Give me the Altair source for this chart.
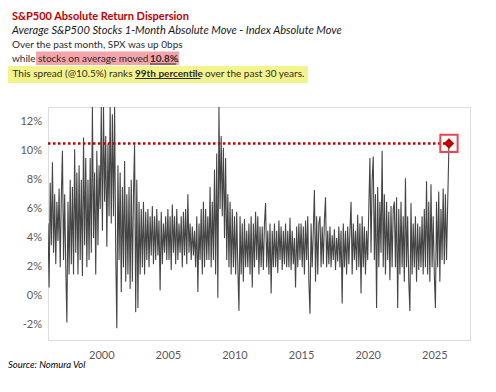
import altair as alt
import pandas as pd

# ---- data (monthly, percent) ----
start_year = 1996
spread_1996_2000 = [
    5.0, 0.6, 7.8, 3.5, 9.2, 3.0, 7.0, 2.2, 6.5, 3.8, 7.4, 2.0,
    6.8, 10.0, 2.5, 7.0, 2.0, -1.8, 6.5, 1.5, 8.0, 2.2, 7.5, 1.5,
    10.1, 3.0, 8.5, 1.5, 9.0, 2.5, 8.0, 1.4, 10.9, 3.5, 9.5, 2.0,
    8.0, 2.5, 9.5, 3.0, 13.0, 4.0, 8.5, 1.5, 10.0, 3.5, 9.0, 6.0,
    13.0, 4.5, 13.0, 6.5, 11.0, 3.4, 10.5, 5.5, 13.0, 5.0, 12.5, 5.5,
]
spread_2001_2005 = [
    13.0, 3.0, -2.2, 9.0, 2.5, 8.5, 0.3, 7.5, 2.0, 9.3, 1.0, 7.0,
    1.5, 7.5, 0.5, 8.0, 1.0, 7.0, 10.4, -1.1, 8.0, -0.8, 6.5, 1.5,
    6.0, 2.0, 6.5, 1.5, 5.8, 2.5, 6.0, 2.0, 5.5, 2.8, 6.2, 2.2,
    5.5, 2.5, 6.0, 2.8, 5.2, 0.4, 5.8, 2.2, 5.0, 3.0, 5.5, 2.5,
    6.0, 2.5, 5.5, 1.8, 6.3, 3.0, 5.5, 2.2, 6.0, 2.5, 5.0, 3.0,
]
spread_2006_2010 = [
    5.5, 2.0, 5.8, 2.8, 6.0, 2.2, 7.0, 3.0, 5.0, 2.5, 4.8, 2.8,
    4.5, 2.0, 5.5, 0.3, 5.0, 2.5, 6.0, 1.5, 6.5, 2.0, 6.0, 2.5,
    5.5, 2.5, 7.5, 2.0, 6.5, 2.5, 8.7, 1.5, 9.8, -0.1, 13.0, 6.0,
    11.0, 5.5, 10.2, 4.0, 9.5, 2.5, 7.0, 2.0, 6.5, 1.5, 6.0, 2.0,
    5.5, 1.5, 5.8, 2.0, -1.0, 5.5, 1.5, 5.0, 1.0, 5.3, 2.0, 4.5,
]
spread_2011_2015 = [
    2.0, 5.0, 1.5, 5.5, 0.6, 5.0, 2.0, 5.8, 2.5, 5.5, 1.5, 4.8,
    2.0, 4.8, 1.8, 5.0, 6.4, 2.0, 4.5, 1.5, 5.0, 0.2, 4.5, 2.0,
    5.0, 2.0, 4.5, 1.6, 5.2, 2.5, 4.8, 1.8, 4.5, 2.2, 5.0, 2.0,
    4.5, 2.0, 5.4, 1.8, 4.5, 2.2, 4.0, 0.6, 4.8, 2.0, 5.0, 2.5,
    5.0, 2.0, 4.8, 1.5, 5.2, 2.5, 5.5, 1.0, -1.2, 5.0, 2.0, 4.5,
]
spread_2016_2020 = [
    7.3, 1.0, 5.5, 1.5, 5.0, 5.5, 2.0, 4.8, 2.2, 5.2, 6.8, 2.0,
    4.5, 2.2, 4.8, 2.0, 4.2, 2.5, 4.6, 1.8, 4.0, 2.4, 4.8, 2.0,
    4.5, -0.5, 5.0, 2.0, 4.5, 1.5, 4.8, 2.2, 4.5, 6.5, 1.5, 5.0,
    2.5, 4.5, 1.8, 5.6, 2.0, 5.0, 0.2, 5.5, 2.0, 4.8, 1.5, 4.5,
    2.5, 6.0, 9.5, 3.0, 8.0, 9.6, 2.5, 7.0, -0.8, 7.5, 2.0, 6.5,
]
spread_2021_2025 = [
    3.0, 10.0, 2.0, 7.0, 1.5, 6.5, 2.5, 5.8, 1.1, 6.2, 2.0, 6.0,
    6.5, 2.0, 6.8, -0.8, 6.0, 1.5, 6.5, 2.0, 5.5, 1.0, 8.1, 2.0,
    5.5, 1.0, -1.0, 6.4, 1.5, 5.0, 2.0, 5.5, 1.0, 5.0, 1.8, 4.8,
    2.0, 5.5, 1.5, 6.0, 2.0, 7.9, 1.5, 6.5, 1.0, 7.7, 2.0, 5.5,
    1.5, -0.8, 6.5, 2.0, 7.2, 1.0, 6.0, 2.5, 7.4, 2.2, 7.0, 2.5,
]
latest_time = 2026.1
latest_value = 10.5
threshold = 10.5
y_ticks = [-2, 0, 2, 4, 6, 8, 10, 12]
x_ticks = [2000, 2005, 2010, 2015, 2020, 2025]

values = (spread_1996_2000 + spread_2001_2005 + spread_2006_2010
          + spread_2011_2015 + spread_2016_2020 + spread_2021_2025)
df = pd.DataFrame({
    "t": [start_year + i / 12 for i in range(len(values))] + [latest_time],
    "v": values + [latest_value],
})
latest = pd.DataFrame({"t": [latest_time], "v": [latest_value]})
ytick_df = pd.DataFrame({"v": y_ticks, "label": [f"{v}%" for v in y_ticks]})

FONT = "Lato"
RED = "#C00000"
BODY = 10
x_scale = alt.Scale(domain=[1996, 2027.68], nice=False, zero=False)
y_scale = alt.Scale(domain=[-3, 13], nice=False, zero=False)

line = alt.Chart(df).mark_line(color="#454545", strokeWidth=1.1, clip=True).encode(
    x=alt.X("t:Q", scale=x_scale,
            axis=alt.Axis(values=x_ticks, format="d", title=None, grid=False, ticks=False,
                          domainColor="#D9D9D9", labelColor="#595959", labelFont=FONT,
                          labelFontSize=11, labelPadding=9, labelFlush=False,
                          labelOverlap=False)),
    y=alt.Y("v:Q", scale=y_scale, axis=None),
)

# y tick labels, placed through the y scale
ylabels = alt.Chart(ytick_df).mark_text(
    align="right", baseline="middle", font=FONT, fontSize=11, color="#595959"
).encode(x=alt.value(-6), y=alt.Y("v:Q", scale=y_scale, axis=None), text="label:N")

rule = alt.Chart(alt.Data(values=[{}])).mark_rule(
    color=RED, strokeWidth=2.5, strokeDash=[2.5, 2.5]
).encode(x=alt.X(datum=1996), x2=alt.X2(datum=latest_time), y=alt.Y(datum=threshold))

diamond = alt.Chart(latest).mark_point(shape="diamond", filled=True, color=RED, size=110, opacity=1).encode(
    x="t:Q", y="v:Q")
box = alt.Chart(latest).mark_point(shape="square", filled=False, color="#E8474F", size=300,
                                   strokeWidth=2, opacity=1).encode(x="t:Q", y="v:Q")

one = alt.Data(values=[{}])


def txt(s, x, y, size=BODY, weight="normal", style="normal", color="#2b2b2b"):
    return alt.Chart(one).mark_text(text=s, align="left", baseline="alphabetic", font=FONT,
                                    fontSize=size, fontWeight=weight, fontStyle=style,
                                    color=color).encode(x=alt.value(x), y=alt.value(y))


def box_rect(x0, x1, y0, y1, color):
    return alt.Chart(one).mark_rect(color=color).encode(
        x=alt.value(x0), x2=alt.value(x1), y=alt.value(y0), y2=alt.value(y1))


def underline(x0, x1, y):
    return alt.Chart(one).mark_rule(color="#2b2b2b", strokeWidth=1).encode(
        x=alt.value(x0), x2=alt.value(x1), y=alt.value(y))


OX, OY = 48, 107
annot = [
    box_rect(36 - OX, 179 - OX, 51.5 - OY, 65 - OY, "#F4A3AA"),
    box_rect(8 - OX, 308 - OX, 66 - OY, 83 - OY, "#F3F58C"),
    txt("S&P500 Absolute Return Dispersion", 12 - OX, 19.5 - OY, size=11, weight="bold", color=RED),
    txt("Average S&P500 Stocks 1-Month Absolute Move - Index Absolute Move", 12 - OX, 34 - OY,
        size=11.1, style="italic", color="#1a1a1a"),
    txt("Over the past month, SPX was up 0bps", 12 - OX, 47.5 - OY),
    txt("while", 12 - OX, 62 - OY),
    txt("stocks on average moved", 38 - OX, 62 - OY),
    txt("10.8%", 150 - OX, 62 - OY, weight="bold"),
    txt(".", 176.5 - OX, 62 - OY),
    underline(150 - OX, 176 - OX, 64 - OY),
    txt("This spread (@10.5%) ranks", 12.5 - OX, 76.5 - OY),
    txt("99th percentile", 135 - OX, 76.5 - OY, weight="bold"),
    txt("over the past 30 years.", 205 - OX, 76.5 - OY),
    underline(135 - OX, 200.5 - OX, 78.5 - OY),
    txt("Source: Nomura Vol", 8 - OX, 368 - OY, size=9.5, style="italic", color="#000000"),
]

chart = alt.layer(*annot[:2], line, ylabels, rule, diamond, box, *annot[2:]).properties(
    width=422, height=233,
    autosize=alt.AutoSizeParams(type="none"),
    padding={"left": OX - 8, "top": OY - 8, "right": 496 - 16 - 422 - (OX - 8), "bottom": 40},
).configure_view(stroke=None).configure(background="white")

chart.save("out.html", embed_options={"renderer": "svg", "actions": False})
